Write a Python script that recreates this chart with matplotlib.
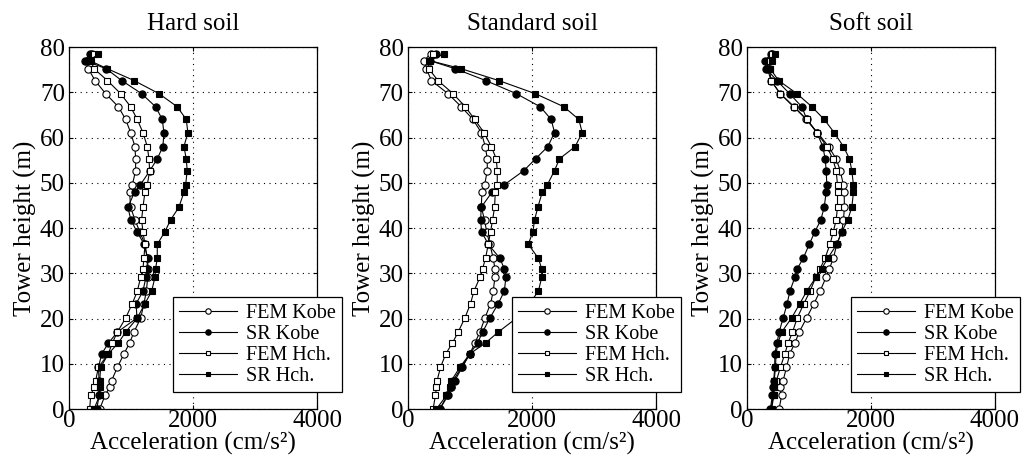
import matplotlib
matplotlib.use('Agg')
import matplotlib.pyplot as plt

plt.rcParams['font.family'] = ['Liberation Serif', 'DejaVu Serif']

# tower heights (m), bottom -> top, shared by all series
heights = [0, 3.0, 4.8, 6.3, 9.2, 12.2, 14.6, 17.0, 20.1, 23.3, 26.0, 29.1, 31.0,
           33.3, 36.4, 39.2, 41.8, 44.6, 47.9, 49.5, 52.7, 55.3, 58.0, 61.1, 64.0,
           66.8, 69.7, 72.6, 75.2, 77.0, 78.5]

titles = ['Hard soil', 'Standard soil', 'Soft soil']
labels = ['FEM Kobe', 'SR Kobe', 'FEM Hch.', 'SR Hch.']

# acceleration (cm/s2) per soil type
hard_fem_kobe = [494, 580, 655, 687, 779, 886, 977, 1047, 1155, 1208, 1246, 1270, 1278, 1262, 1224, 1140,
                 1063, 993, 977, 1020, 1074, 1074, 1063, 993, 913, 795, 590, 419, 311, 295, 365]
hard_sr_kobe = [447, 485, 480, 485, 474, 528, 636, 780, 1094, 1083, 1191, 1240, 1256, 1267, 1213, 1094,
                997, 949, 1056, 1148, 1305, 1423, 1514, 1530, 1504, 1396, 1170, 848, 600, 258, 333]
hard_fem_hch = [333, 349, 403, 430, 473, 634, 698, 779, 913, 1020, 1100, 1155, 1192, 1208, 1224, 1192,
                1170, 1192, 1224, 1262, 1300, 1289, 1262, 1192, 1100, 993, 832, 618, 403, 349, 403]
hard_sr_hch = [403, 494, 494, 494, 510, 634, 795, 913, 1100, 1224, 1332, 1385, 1396, 1423, 1423, 1547,
               1638, 1772, 1853, 1880, 1906, 1890, 1853, 1917, 1890, 1745, 1450, 1047, 618, 333, 473]

std_fem_kobe = [512, 631, 701, 728, 862, 997, 1078, 1159, 1240, 1331, 1374, 1401, 1401, 1374, 1320, 1267,
                1235, 1181, 1192, 1235, 1278, 1278, 1246, 1181, 1047, 859, 644, 376, 295, 258, 365]
std_sr_kobe = [512, 647, 701, 755, 873, 997, 1121, 1202, 1320, 1455, 1552, 1579, 1552, 1482, 1294, 1186,
               1171, 1181, 1353, 1547, 1869, 2057, 2255, 2363, 2309, 2132, 1745, 1251, 763, 349, 456]
std_fem_hch = [404, 442, 458, 469, 523, 609, 717, 808, 916, 1008, 1062, 1159, 1202, 1250, 1294, 1331,
               1364, 1396, 1407, 1439, 1439, 1423, 1343, 1224, 1074, 924, 725, 483, 333, 333, 403]
std_sr_hch = [458, 620, 674, 701, 835, 997, 1250, 1455, 1750, 1957, 2102, 2156, 2156, 2102, 1940, 2014,
              2041, 2094, 2164, 2245, 2363, 2443, 2696, 2809, 2755, 2513, 2051, 1461, 859, 349, 580]

soft_fem_kobe = [519, 560, 530, 584, 638, 692, 773, 843, 962, 1081, 1178, 1276, 1330, 1394, 1449, 1530,
                 1557, 1573, 1568, 1557, 1504, 1439, 1316, 1138, 956, 763, 537, 387, 333, 333, 403]
soft_sr_kobe = [378, 411, 422, 432, 449, 449, 486, 519, 584, 649, 692, 773, 811, 908, 1005, 1097,
                1192, 1246, 1278, 1289, 1278, 1262, 1224, 1128, 966, 886, 687, 483, 311, 295, 387]
soft_fem_hch = [400, 432, 432, 476, 540, 611, 665, 735, 811, 919, 1016, 1110, 1180, 1259, 1340, 1394,
                1439, 1461, 1461, 1461, 1439, 1385, 1289, 1128, 966, 752, 537, 387, 365, 376, 403]
soft_sr_hch = [384, 432, 432, 440, 460, 470, 500, 560, 719, 854, 962, 1113, 1205, 1303, 1449, 1530,
               1627, 1692, 1718, 1718, 1692, 1654, 1557, 1407, 1246, 1047, 806, 510, 376, 403, 456]

panels = [
    [hard_fem_kobe, hard_sr_kobe, hard_fem_hch, hard_sr_hch],
    [std_fem_kobe, std_sr_kobe, std_fem_hch, std_sr_hch],
    [soft_fem_kobe, soft_sr_kobe, soft_fem_hch, soft_sr_hch],
]

# marker, face colour for each series
styles = [('o', 'white'), ('o', 'black'), ('s', 'white'), ('s', 'black')]

fig = plt.figure(figsize=(10.26, 4.66), dpi=100)
lefts = [0.0673, 0.3977, 0.728]

for i, series in enumerate(panels):
    ax = fig.add_axes([lefts[i], 0.1223, 0.2417, 0.7768])
    for vals, (mk, fc), lab in zip(series, styles, labels):
        ax.plot(vals, heights, color='black', lw=0.8, marker=mk, ms=5.2 if mk == 'o' else 4.8,
                mfc=fc, mec='black', mew=0.8, label=lab)
    ax.set_xlim(0, 4000)
    ax.set_ylim(0, 80)
    ax.set_xticks([0, 2000, 4000])
    ax.set_yticks(range(0, 81, 10))
    ax.grid(True, color='black', linestyle=(0, (1, 4)), lw=0.8)
    ax.tick_params(direction='in', length=3, top=True, right=True, labelsize=18)
    ax.tick_params(axis='x', pad=1)
    ax.tick_params(axis='y', pad=3)
    for sp in ax.spines.values():
        sp.set_linewidth(0.9)
    ax.set_title(titles[i], fontsize=18, pad=12)
    ax.set_xlabel('Acceleration (cm/s²)', fontsize=18, labelpad=0)
    ax.set_ylabel('Tower height (m)', fontsize=18, labelpad=2)
    leg = ax.legend(loc='lower right', bbox_to_anchor=(1.10, 0.047), borderaxespad=0,
                    fontsize=14.5, handlelength=2.85, handletextpad=0.45, labelspacing=0.1,
                    borderpad=0.3, markerscale=0.75, fancybox=False, framealpha=1,
                    edgecolor='black')
    leg.get_frame().set_linewidth(0.9)
    leg.set_zorder(5)

fig.savefig('out.png', dpi=100)
